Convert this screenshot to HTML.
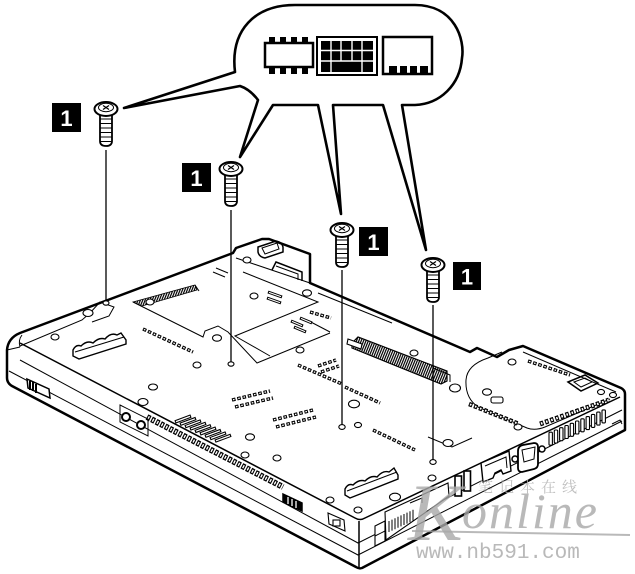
<!DOCTYPE html>
<html><head><meta charset="utf-8"><style>
html,body{margin:0;padding:0;background:#fff;}
svg{display:block;}
.t{fill:none;stroke:#000;stroke-width:1;}
.m{fill:none;stroke:#000;stroke-width:1.5;}
.h{fill:#fff;stroke:#000;stroke-width:1.1;}
.sb{fill:none;stroke:#000;stroke-width:3.4;stroke-dasharray:3.6 1.8;}
.sw{fill:none;stroke:#fff;stroke-width:1.3;stroke-dasharray:1.6 3.8;stroke-dashoffset:-1;}
.lb{fill:#000;}
.lt{fill:#fff;font-family:"Liberation Sans",sans-serif;font-weight:bold;font-size:22px;}
</style></head><body>
<svg width="635" height="574" viewBox="0 0 635 574" xmlns="http://www.w3.org/2000/svg">
<defs>
 <pattern id="hatch" width="2.2" height="6" patternUnits="userSpaceOnUse" patternTransform="rotate(22)">
   <rect width="1.2" height="6" fill="#000"/>
 </pattern>
 <g id="screw">
   <path d="M-6,4 L-6,32 Q-6,37 0,37 Q6,37 6,32 L6,4" fill="#fff" stroke="#000" stroke-width="1.8"/>
   <path d="M-6,10 H6 M-6,14.5 H6 M-6,19 H6 M-6,23.5 H6 M-6,28 H6 M-6,32.5 H6" stroke="#000" stroke-width="0.9"/>
   <ellipse cx="0" cy="0" rx="11.5" ry="7" fill="#fff" stroke="#000" stroke-width="2"/>
   <ellipse cx="0" cy="-1.5" rx="7.5" ry="4.2" fill="none" stroke="#000" stroke-width="1"/>
   <path d="M-3,-3.5 L3,0.5 M3,-3.5 L-3,0.5" stroke="#000" stroke-width="1.2"/>
 </g>
</defs>

<!-- laptop body silhouette -->
<path d="M20,333 L233,253 L236,248 L262,239 L269,239 L310,254 L310,283 L470,352 L477,348 L497,357 L509,350 L523,346 L621,388 Q625,390 625,394 L625,430 L362,568 Q359,569 356,567 L12,386 Q7,383 7,378 L7,350 Q8,338 20,333 Z" fill="#fff" stroke="#000" stroke-width="2.5" stroke-linejoin="round"/>

<!-- face edges -->
<path class="m" d="M20,343 L355,518 Q360,521 365,518 L620,397"/>
<path class="t" d="M22,335 Q18,340 20,347"/>
<!-- side bands -->
<path class="t" d="M20,360 L358,543 L622,410"/>
<path class="t" d="M9,371 L358,555 L622,421"/>
<path class="m" d="M359,521 L359,567"/>
<path class="t" d="M7,350 L20,347"/>

<!-- back inner rim + screw pocket -->
<path class="t" d="M20,346 L82,320 L90,313 L100,302 L114,307 L109,316 L92,322"/>
<ellipse class="h" cx="88" cy="313" rx="5" ry="3.5"/>

<!-- hinge block details -->
<path class="t" d="M236,258 L310,283"/>
<path class="m" d="M258,247 L276,241 Q282,242 283,247 L283,252 L265,258 Q259,257 258,252 Z"/>
<path class="t" d="M262,248 L277,243 L279,249 L265,254 Z"/>
<path class="m" d="M272,270 L276,262 L302,272 L302,281"/>
<path class="t" d="M276,266 L298,274 L298,280"/>

<!-- panels -->
<polygon points="133,302 195,285 197,290 142,306" fill="url(#hatch)" stroke="#000" stroke-width="0.8"/>
<path class="t" d="M133,302 L203,337 L205,331 L218,326 L228,332 L257,363 L330,333"/>
<path class="t" d="M195,285 L199,291"/>
<path class="t" d="M243,272 L318,302 L235,336 L270,356"/>
<path class="t" d="M307,320 L330,332"/>
<path class="t" d="M318,293 L392,323"/>
<path class="t" d="M428,437 L452,447 L472,438"/>

<!-- dock connector -->
<path d="M352,343 L358,337 L447,371 L447,381 L441,384 L352,348 Z" fill="url(#hatch)" stroke="#000" stroke-width="1.2"/>
<path class="h" d="M348,339 L362,344 L361,349 L347,344 Z"/>
<path class="t" d="M433,368 L450,375 L450,382"/>

<!-- right panel -->
<path class="t" d="M502,352 L488,358 Q467,365 466,380 Q465,398 478,407 L527,428 Q535,431 545,427 L610,399"/>
<path class="t" d="M523,352 L616,392"/>
<path class="m" d="M568,382 L585,375 L598,383 L581,391 Z"/>
<path class="t" d="M574,382 L585,378 L592,382 L581,387 Z"/>
<rect x="491" y="397" width="12" height="6" rx="2" class="h"/>

<!-- feet -->
<path d="M73,350 Q76,344 81,346 Q87,340 93,343 Q99,337 105,339 Q111,332 117,335 L121,333 L126,340 L126,344 L79,359 L73,356 Z" fill="#fff" stroke="#000" stroke-width="1.4"/>
<path class="t" d="M75,352 L124,337"/>
<path d="M345,489 Q348,483 353,485 Q359,479 365,481 Q371,475 377,477 Q383,470 389,472 L394,468 L398,475 L398,479 L350,498 L345,495 Z" fill="#fff" stroke="#000" stroke-width="1.4"/>
<path class="t" d="M347,491 L397,472"/>

<!-- holes -->
<g class="h">
<ellipse cx="55" cy="337" rx="4" ry="3"/>
<ellipse cx="150" cy="302" rx="4" ry="3"/>
<ellipse cx="153" cy="387" rx="4.5" ry="3"/>
<ellipse cx="143" cy="402" rx="5" ry="3.5"/>
<ellipse cx="197" cy="365" rx="4" ry="3"/>
<ellipse cx="217" cy="338" rx="4.5" ry="3.2"/>
<ellipse cx="247" cy="260" rx="4" ry="3"/>
<ellipse cx="254" cy="296" rx="4" ry="3"/>
<ellipse cx="250" cy="437" rx="4.5" ry="3.2"/>
<ellipse cx="245" cy="455" rx="4" ry="3"/>
<ellipse cx="277" cy="458" rx="4" ry="3"/>
<ellipse cx="300" cy="350" rx="4" ry="3"/>
<ellipse cx="307" cy="293" rx="4.5" ry="3.2"/>
<ellipse cx="354" cy="404" rx="5.5" ry="3.8"/>
<ellipse cx="358" cy="425" rx="3.5" ry="2.6"/>
<ellipse cx="414" cy="353" rx="4" ry="3"/>
<ellipse cx="455" cy="388" rx="5.5" ry="4"/>
<ellipse cx="448" cy="443" rx="5" ry="3.5"/>
<ellipse cx="432" cy="478" rx="4" ry="3"/>
<ellipse cx="395" cy="497" rx="5.5" ry="3.8"/>
<ellipse cx="330" cy="500" rx="4" ry="3"/>
<ellipse cx="358" cy="510" rx="4" ry="3"/>
<ellipse cx="512" cy="362" rx="4" ry="3"/>
<ellipse cx="487" cy="392" rx="4.5" ry="3.2"/>
<ellipse cx="518" cy="427" rx="4" ry="3"/>
<ellipse cx="601" cy="392" rx="3.5" ry="2.6"/>
<ellipse cx="613" cy="395" rx="3.5" ry="2.6"/>
<ellipse cx="106" cy="303" rx="3" ry="2.2"/>
<ellipse cx="231" cy="364" rx="3" ry="2.2"/>
<ellipse cx="342" cy="427" rx="3.2" ry="2.4"/>
<ellipse cx="433" cy="462" rx="3.2" ry="2.4"/>
</g>

<!-- slot rows -->
<g>
<path class="sb" d="M143,329 L193,352"/><path class="sw" d="M143,329 L193,352"/>
<path class="sb" d="M232,400 L270,391"/><path class="sw" d="M232,400 L270,391"/>
<path class="sb" d="M235,407 L273,398"/><path class="sw" d="M235,407 L273,398"/>
<path class="sb" d="M273,420 L313,410"/><path class="sw" d="M273,420 L313,410"/>
<path class="sb" d="M276,427 L316,417"/><path class="sw" d="M276,427 L316,417"/>
<path class="sb" d="M298,365 L342,384"/><path class="sw" d="M298,365 L342,384"/>
<path class="sb" d="M345,387 L380,403"/><path class="sw" d="M345,387 L380,403"/>
<path class="sb" d="M373,430 L415,450"/><path class="sw" d="M373,430 L415,450"/>
<path class="sb" d="M318,366 L336,360"/><path class="sw" d="M318,366 L336,360"/>
<path class="sb" d="M321,372 L339,366"/><path class="sw" d="M321,372 L339,366"/>
<path class="sb" d="M528,361 L570,375"/><path class="sw" d="M528,361 L570,375"/>
<path class="sb" d="M310,312 L331,318"/><path class="sw" d="M310,312 L331,318"/>
<path class="sb" d="M469,404 L519,424" style="stroke-width:4.5"/><path class="sw" d="M469,404 L519,424" style="stroke-width:2"/>
<path class="sb" d="M540,424 L609,400" style="stroke-width:5"/><path class="sw" d="M540,424 L609,400" style="stroke-width:2.4"/>
</g>
<!-- short bars -->
<g>
<path d="M268,292 L282,297 M267,298 L281,303 M291,321 L303,326 M294,327 L306,332 M300,318 L312,323" stroke="#000" stroke-width="3" fill="none"/>
<path d="M269,292.4 L281,296.6 M268,298.4 L280,302.6 M292,321.4 L302,325.6 M295,327.4 L305,331.6 M301,318.4 L311,322.6" stroke="#fff" stroke-width="1.1" fill="none"/>
<path d="M216,268 L228,273 M213,272 L225,277" stroke="#000" stroke-width="1"/>
</g>
<!-- vent grid -->
<g>
<path d="M175,422 L191,416 M180,424.4 L196,418.4 M185,426.8 L201,420.8 M190,429.2 L206,423.2 M195,431.6 L211,425.6 M200,434 L216,428 M205,436.4 L221,430.4 M210,438.8 L226,432.8 M215,441.2 L231,435.2" stroke="#000" stroke-width="3.4" fill="none"/>
<path d="M176,421.6 L190,416.4 M181,424 L195,418.8 M186,426.4 L200,421.2 M191,428.8 L205,423.6 M196,431.2 L210,426 M201,433.6 L215,428.4 M206,436 L220,430.8 M211,438.4 L225,433.2 M216,440.8 L230,435.6" stroke="#fff" stroke-width="1.3" fill="none"/>
</g>
<!-- front vent slots -->
<path d="M147,417 L283,487" stroke="#000" stroke-width="6" stroke-dasharray="3.6 1.48" fill="none"/>
<path d="M147,417 L283,487" stroke="#fff" stroke-width="3.4" stroke-dasharray="1.4 3.68" stroke-dashoffset="-1.1" fill="none"/>

<!-- front side details -->
<path d="M27,379 L49,389 L50,398 L28,388 Z" fill="#fff" stroke="#000" stroke-width="1.5"/>
<path d="M30,381 L30,390 M33,382 L33,391 M36,384 L36,393" stroke="#000" stroke-width="2"/>
<path class="t" d="M120,405 L148,419 L148,436 L120,422 Z"/>
<circle cx="126" cy="417" r="4" fill="#fff" stroke="#000" stroke-width="2"/>
<circle cx="141" cy="425" r="4" fill="#fff" stroke="#000" stroke-width="2"/>
<path d="M283,494 L302,503 L302,511 L283,502 Z" fill="#000" stroke="#000" stroke-width="1.5"/>
<path d="M288,497 L288,504 M292,499 L292,506 M296,501 L296,508" stroke="#fff" stroke-width="1.3"/>
<path class="h" d="M328,513 L344,520 L345,531 L329,524 Z"/>
<rect x="333" y="520" width="7" height="6" class="h"/>

<!-- right side ports -->
<path class="h" d="M375,526 L385,521 L385,541 L375,546 Z"/>
<path class="t" d="M375,536 L385,531"/>
<path class="h" d="M385,512 L448,483 L449,496 L386,540 Z"/>
<path class="t" d="M410,503 L422,498 L422,503"/>
<path d="M389,521 L389,532 M392,519.6 L392,530.6 M395,518.2 L395,529.2 M398,516.8 L398,527.8 M401,515.4 L401,526.4 M404,514 L404,525 M407,512.6 L407,523.6 M410,511.2 L410,522.2 M413,509.8 L413,520.8" stroke="#000" stroke-width="1"/>
<rect x="455" y="476" width="6.5" height="20" class="h" style="stroke-width:1.6"/>
<rect x="464" y="471" width="6.5" height="20" class="h" style="stroke-width:1.6"/>
<path class="h" d="M481,463 L509,451 L511,471 L503,474 L501,470 L495,473 L493,478 L483,482 Z" style="stroke-width:1.4"/>
<path class="t" d="M485,466 L506,457 L507,468"/>
<circle cx="515" cy="459" r="3" class="h" style="stroke-width:1.5"/>
<path class="h" d="M518,451 Q518,446 523,445 L534,443 Q538,443 538,447 L538,464 Q538,468 534,469 L522,472 Q518,472 518,468 Z" style="stroke-width:1.8"/>
<path class="t" d="M522,450 L535,447 L534,459 L524,462 Z"/>
<circle cx="542" cy="449" r="3" class="h" style="stroke-width:1.5"/>
<!-- vent slats -->
<g fill="#fff" stroke="#000" stroke-width="1.1">
<rect x="549" y="432.2" width="3.4" height="13" rx="1"/>
<rect x="554.3" y="430" width="3.4" height="13" rx="1"/>
<rect x="559.6" y="427.7" width="3.4" height="13" rx="1"/>
<rect x="564.9" y="425.5" width="3.4" height="13" rx="1"/>
<rect x="570.2" y="423.3" width="3.4" height="13" rx="1"/>
<rect x="575.5" y="421" width="3.4" height="13" rx="1"/>
<rect x="580.8" y="418.8" width="3.4" height="13" rx="1"/>
<rect x="586.1" y="416.6" width="3.4" height="13" rx="1"/>
<rect x="591.4" y="414.4" width="3.4" height="13" rx="1"/>
<rect x="596.7" y="412.1" width="3.4" height="13" rx="1"/>
<rect x="602" y="409.9" width="3.4" height="13" rx="1"/>
</g>
<path class="t" d="M612,424 L620,420 L622,424"/>

<!-- screw guide lines -->
<path d="M106,150 L106,300 M231,210 L231,362 M342,270 L342,425 M433,305 L433,460" stroke="#000" stroke-width="1.3"/>

<!-- screws -->
<use href="#screw" x="106" y="109"/>
<use href="#screw" x="231" y="169"/>
<use href="#screw" x="342" y="230"/>
<use href="#screw" x="433" y="265"/>

<!-- callout -->
<path d="M235,72 C230,30 255,5 295,5 L415,5 C455,5 465,40 462,58 C460,85 440,104 415,105 L402,105 L426,250 L383,105 L333,105 L341,214 L318,105 L273,105 L240,157 L258,100 C252,92 246,88 240,86 L124,108 Z" fill="#fff" stroke="#000" stroke-width="2.6" stroke-linejoin="round"/>
<!-- icon 1 chip -->
<rect x="265" y="43" width="48" height="24" fill="#fff" stroke="#000" stroke-width="2.5"/>
<g fill="#000">
<rect x="269" y="37" width="6" height="7"/><rect x="280" y="37" width="6" height="7"/><rect x="291" y="37" width="6" height="7"/><rect x="302" y="37" width="6" height="7"/>
<rect x="269" y="66" width="6" height="8"/><rect x="280" y="66" width="6" height="8"/><rect x="291" y="66" width="6" height="8"/><rect x="302" y="66" width="6" height="8"/>
</g>
<!-- icon 2 keyboard -->
<rect x="317" y="37" width="60" height="38" fill="#fff" stroke="#000" stroke-width="2"/>
<rect x="321" y="41" width="52" height="31" fill="#000"/>
<path d="M321,50.5 H373 M321,61 H373 M331,41 V61 M341,41 V61 M352,41 V61 M362,41 V61 M331,61 V72 M362,61 V72" stroke="#fff" stroke-width="1.4"/>
<!-- icon 3 -->
<rect x="383" y="37" width="49" height="37" fill="#fff" stroke="#000" stroke-width="2.5"/>
<g fill="#000">
<rect x="389" y="66" width="8" height="8"/><rect x="400" y="66" width="7" height="8"/><rect x="410" y="66" width="7" height="8"/><rect x="420" y="66" width="8" height="8"/>
</g>

<!-- labels -->
<rect class="lb" x="52" y="103" width="29" height="29"/>
<text class="lt" x="66.5" y="126" text-anchor="middle">1</text>
<rect class="lb" x="182" y="163" width="29" height="29"/>
<text class="lt" x="196.5" y="186" text-anchor="middle">1</text>
<rect class="lb" x="359" y="227" width="29" height="29"/>
<text class="lt" x="373.5" y="250" text-anchor="middle">1</text>
<rect class="lb" x="453" y="262" width="28" height="28"/>
<text class="lt" x="467" y="284.5" text-anchor="middle">1</text>

<!-- watermark -->
<g fill="#a8a8a8" opacity="0.8">
<text x="408" y="540" font-family="'Liberation Serif',serif" font-style="italic" font-size="82">K</text>
<text x="462" y="528" font-family="'Liberation Serif',serif" font-style="italic" font-size="50" letter-spacing="2">online</text>
<text x="478" y="492" font-family="'Liberation Serif','Noto Serif CJK SC',serif" font-size="15" letter-spacing="6" fill="#b0b0b0">笔记本在线</text>
<text x="416" y="558" font-family="'Liberation Mono',monospace" font-size="21">www.nb591.com</text>
</g>
<path d="M412,531 L630,535" stroke="#a8a8a8" stroke-width="2" opacity="0.8"/>
</svg>
</body></html>
